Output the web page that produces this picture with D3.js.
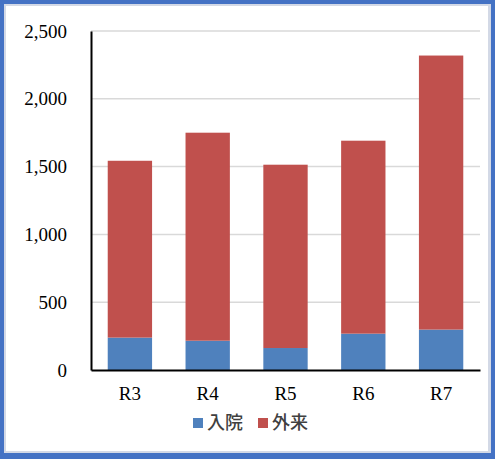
<!DOCTYPE html>
<html>
<head>
<meta charset="utf-8">
<script src="https://cdn.jsdelivr.net/npm/d3@7"></script>
<style>
  body { margin: 0; background: #fff; }
  svg { display: block; }
</style>
</head>
<body>
<svg id="chart"></svg>
<script>
// data
var categories = ["R3", "R4", "R5", "R6", "R7"];
var inpatient = [239, 216, 162, 268, 298];     // 入院
var outpatient = [1304, 1534, 1352, 1423, 2021]; // 外来
var seriesNames = ["入院", "外来"];
var yTicks = [0, 500, 1000, 1500, 2000, 2500];

var svgWidth = 495, svgHeight = 459;
var margin = {top: 31, right: 15, bottom: 89, left: 91};
var width = svgWidth - margin.left - margin.right,
    height = svgHeight - margin.top - margin.bottom;

var svg = d3.select("#chart")
    .attr("width", svgWidth)
    .attr("height", svgHeight);

// frame
svg.append("rect").attr("width", svgWidth).attr("height", svgHeight).attr("fill", "#4472c4");
svg.append("rect").attr("x", 4).attr("y", 4)
    .attr("width", svgWidth - 8).attr("height", svgHeight - 10).attr("fill", "#d3d9e6");
svg.append("rect").attr("x", 6).attr("y", 6)
    .attr("width", svgWidth - 13).attr("height", svgHeight - 14).attr("fill", "#fff");

var g = svg.append("g")
    .attr("transform", "translate(" + margin.left + "," + margin.top + ")");

var x = d3.scaleBand().domain(categories).range([0, width]).paddingInner(0.43).paddingOuter(0.215);
var y = d3.scaleLinear().domain([0, 2500]).range([height, 0]);

var colors = ["#4f81bd", "#c0504d"];

// gridlines
g.selectAll(".grid")
    .data(yTicks.slice(1))
    .enter().append("line")
    .attr("x1", 0).attr("x2", width)
    .attr("y1", function(d) { return y(d); })
    .attr("y2", function(d) { return y(d); })
    .attr("stroke", "#d9d9d9")
    .attr("stroke-width", 1.5);

// stacked data
var rows = categories.map(function(c, i) {
    return {cat: c, "入院": inpatient[i], "外来": outpatient[i]};
});
var stack = d3.stack().keys(seriesNames)(rows);

g.selectAll(".series")
    .data(stack)
    .enter().append("g")
    .attr("fill", function(d, i) { return colors[i]; })
    .selectAll("rect")
    .data(function(d) { return d; })
    .enter().append("rect")
    .attr("x", function(d) { return x(d.data.cat); })
    .attr("width", x.bandwidth())
    .attr("y", function(d) { return y(d[1]); })
    .attr("height", function(d) { return y(d[0]) - y(d[1]); });

var serif = "'Liberation Serif', 'DejaVu Serif', serif";

// y axis
var yAxis = g.append("g")
    .call(d3.axisLeft(y).tickValues(yTicks).tickSize(0).tickPadding(24)
        .tickFormat(d3.format(",")));
yAxis.select(".domain").attr("stroke", "#000").attr("stroke-width", 2);
yAxis.selectAll("text")
    .attr("font-family", serif)
    .attr("font-size", "19px")
    .attr("fill", "#000");

// x axis
var xAxis = g.append("g")
    .attr("transform", "translate(0," + height + ")")
    .call(d3.axisBottom(x).tickSize(0).tickPadding(17));
xAxis.select(".domain").attr("stroke", "#000").attr("stroke-width", 2);
xAxis.selectAll("text")
    .attr("font-family", serif)
    .attr("font-size", "19px")
    .attr("fill", "#000");

// legend
var legendX = [193, 258];
var legend = svg.selectAll(".legend")
    .data(seriesNames)
    .enter().append("g")
    .attr("transform", function(d, i) { return "translate(" + legendX[i] + ",418)"; });
legend.append("rect")
    .attr("width", 10).attr("height", 10)
    .attr("fill", function(d, i) { return colors[i]; });
legend.append("text")
    .attr("x", 14).attr("y", 11)
    .attr("font-family", "'Noto Sans CJK JP', sans-serif")
    .attr("font-size", "18px")
    .attr("font-weight", 500)
    .attr("fill", "#404040")
    .text(function(d) { return d; });
</script>
</body>
</html>
